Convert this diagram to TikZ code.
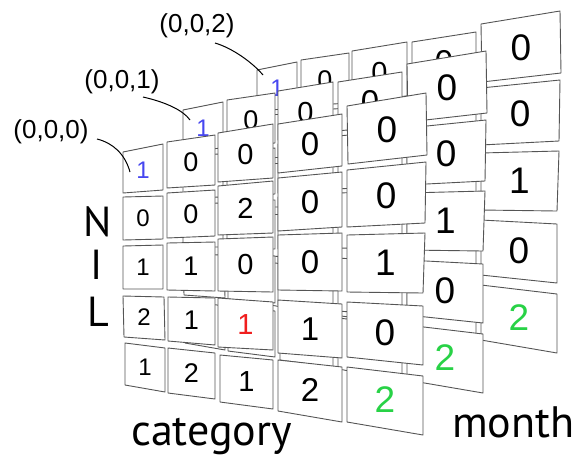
\documentclass[tikz,border=0pt]{standalone}
\usepackage{fontspec}
\setmainfont{Liberation Sans}
\newfontfamily\lblfont{PT Sans}
\usetikzlibrary{calc}
\definecolor{digblue}{RGB}{70,70,240}
\definecolor{digred}{RGB}{240,30,30}
\definecolor{diggreen}{RGB}{40,210,70}
\definecolor{cardedge}{RGB}{85,85,85}
\tikzset{
  cardln/.style={draw=cardedge,fill=white,line width=0.9pt,line join=round},
  digit/.style={inner sep=0pt},
  leader/.style={draw=black,line width=1pt},
  coordlbl/.style={font=\fontsize{26pt}{26pt}\selectfont,inner sep=0pt},
  axislbl/.style={font=\lblfont\fontsize{42pt}{42pt}\selectfont,inner sep=0pt},
  axisword/.style={font=\lblfont\fontsize{44pt}{44pt}\selectfont,inner sep=0pt,anchor=base west}
}
\newif\ifshowall
% #1 name, #2 TL, #3 TR, #4 BR, #5 BL, #6 digit, #7 colour, #8 size
\newcommand\cardq[8]{%
  \draw[cardln] #2 -- #3 -- #4 -- #5 -- cycle;
  \node[digit,text=#7,font=\fontsize{#8pt}{#8pt}\selectfont] (#1)
    at ($ ($#2!0.5!#4$)!0.5!($#3!0.5!#5$) $) {#6};
}
% inner card: its digit is only set where it can be seen (front layer)
\newcommand\cardi[8]{%
  \ifshowall\cardq{#1}{#2}{#3}{#4}{#5}{#6}{#7}{#8}%
  \else\draw[cardln] #2 -- #3 -- #4 -- #5 -- cycle;\fi
}
\newcommand\cardlayer[1]{%
  \cardq{#1r1c1}{(123,152)}{(163,144)}{(163,190)}{(123,193)}{1}{digblue}{24}
  \cardq{#1r1c2}{(167,142)}{(215,135)}{(215,185)}{(167,188)}{0}{black}{27}
  \cardq{#1r1c3}{(218,133)}{(273,124)}{(273,178)}{(218,182)}{0}{black}{29}
  \cardq{#1r1c4}{(278,124)}{(342,114)}{(342,166)}{(278,173)}{0}{black}{33}
  \cardq{#1r1c5}{(347,106)}{(426,93)}{(427,155)}{(348,164)}{0}{black}{37}
  \cardi{#1r2c1}{(123,197)}{(163,196)}{(163,239)}{(123,240)}{0}{black}{24}
  \cardi{#1r2c2}{(167,193)}{(215,190)}{(215,236)}{(167,238)}{0}{black}{27}
  \cardi{#1r2c3}{(218,186)}{(273,181)}{(273,233)}{(218,235)}{2}{black}{29}
  \cardi{#1r2c4}{(278,178)}{(342,172)}{(342,227)}{(278,231)}{0}{black}{33}
  \cardq{#1r2c5}{(347,170)}{(426,162)}{(425,223)}{(347,227)}{0}{black}{37}
  \cardi{#1r3c1}{(123,246)}{(163,245)}{(163,289)}{(123,289)}{1}{black}{24}
  \cardi{#1r3c2}{(167,243)}{(215,242)}{(215,291)}{(167,290)}{1}{black}{27}
  \cardi{#1r3c3}{(218,239)}{(273,237)}{(273,292)}{(218,291)}{0}{black}{29}
  \cardi{#1r3c4}{(278,235)}{(342,233)}{(342,291)}{(278,290)}{0}{black}{33}
  \cardq{#1r3c5}{(347,235)}{(425,233)}{(423,293)}{(347,292)}{1}{black}{37}
  \cardi{#1r4c1}{(123,296)}{(164,297)}{(165,340)}{(124,337)}{2}{black}{24}
  \cardi{#1r4c2}{(168,297)}{(215,298)}{(215,345)}{(168,341)}{1}{black}{27}
  \cardi{#1r4c3}{(218,298)}{(273,302)}{(273,350)}{(218,347)}{1}{digred}{29}
  \cardi{#1r4c4}{(278,300)}{(342,304)}{(342,358)}{(278,353)}{1}{black}{33}
  \cardq{#1r4c5}{(347,302)}{(423,306)}{(423,365)}{(347,357)}{0}{black}{37}
  \cardi{#1r5c1}{(125,343)}{(165,348)}{(165,392)}{(125,385)}{1}{black}{24}
  \cardi{#1r5c2}{(168,348)}{(215,353)}{(215,399)}{(168,393)}{2}{black}{27}
  \cardi{#1r5c3}{(220,355)}{(273,360)}{(273,409)}{(220,402)}{1}{black}{29}
  \cardi{#1r5c4}{(278,360)}{(342,367)}{(342,422)}{(278,411)}{2}{black}{33}
  \cardq{#1r5c5}{(347,367)}{(423,376)}{(423,435)}{(347,422)}{2}{diggreen}{37}
}
\begin{document}
\begin{tikzpicture}[x=1pt,y=-1pt]
\useasboundingbox (0,0) rectangle (577,456);
\begin{scope}[shift={(134,-82)}]\showallfalse\cardlayer{b}\end{scope}
\begin{scope}[shift={(60,-42)}]\showallfalse\cardlayer{m}\end{scope}
\showalltrue
\cardlayer{f}
% coordinate labels
\node[coordlbl] (lab0) at (51,132) {(0,0,0)};
\node[coordlbl] (lab1) at (122,82) {(0,0,1)};
\node[coordlbl] (lab2) at (197,26) {(0,0,2)};
\coordinate (s0) at (97,139);
\coordinate (e0) at (130,172);
\coordinate (s1) at (143,97);
\coordinate (e1) at (190,120);
\coordinate (s2) at (215,43);
\coordinate (e2) at (263,75);
\draw[leader] (s0) .. controls (113,143) and (125,154) .. (e0);
\draw[leader] (s1) .. controls (165,102) and (183,110) .. (e1);
\draw[leader] (s2) .. controls (232,48) and (252,62) .. (e2);
% axis labels
\node[axislbl] (axN) at (98,222) {N};
\node[axislbl] (axI) at (97,265) {I};
\node[axislbl] (axL) at (98,312) {L};
\node[axisword] (axcat) at (131,445) {category};
\node[axisword] (axmonth) at (452,437) {month};
\end{tikzpicture}
\end{document}
